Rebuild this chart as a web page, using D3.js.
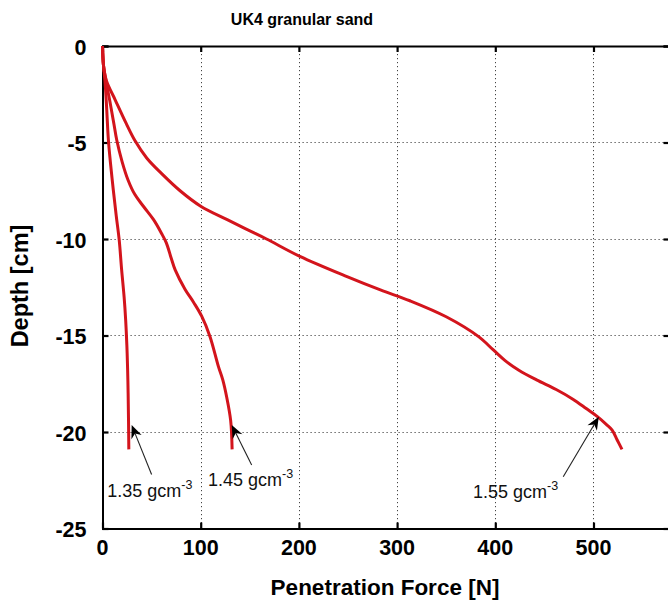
<!DOCTYPE html>
<html>
<head>
<meta charset="utf-8">
<script src="https://cdn.jsdelivr.net/npm/d3@7"></script>
<style>
  html, body { margin: 0; padding: 0; background: #fff; overflow: hidden; }
  svg { display: block; font-family: "Liberation Sans", Arial, sans-serif; }
</style>
</head>
<body>
<svg id="chart" width="668" height="602"></svg>
<script>
// Penetration force (N) against depth (cm) for three packing densities
const depth135 = [0, -1, -1.8, -3, -4.87, -6, -7.46, -8.8, -10.05, -11.6, -13, -14.2, -15.5, -16.8, -18, -19.4, -20.9];
const force135 = [0, 1, 2.5, 4, 6, 8, 11, 14, 17, 19.5, 22, 23.6, 24.8, 25.6, 26.1, 26.5, 26.8];

const depth145 = [0, -1, -1.8, -3, -4, -4.87, -6, -6.94, -7.7, -8.33, -9, -9.7, -10.2, -11, -11.6, -12.6, -13.3, -14, -15.06, -16.6, -17.3, -18.2, -19.4, -20.9];
const force145 = [0, 1, 3.5, 8, 11.5, 14.5, 20, 26, 33, 42, 52, 60, 65, 70, 74, 84, 93, 101, 109.5, 118, 122.5, 126.5, 130.5, 132];

const depth155 = [0, -1, -1.8, -2.8, -4, -4.9, -5.8, -6.6, -7.5, -8.3, -9, -9.53, -10, -10.9, -11.95, -12.64, -13.2, -14.03, -15.06, -15.75, -16.3, -16.8, -17.3, -17.8, -18.3, -18.8, -19.2, -19.6, -19.9, -20.4, -20.9];
const force155 = [0, 1, 4, 13, 24, 33, 45, 60, 79, 100, 127, 148, 167, 201, 249, 283, 313, 350, 383, 398, 410, 424, 442, 462, 479, 493, 504, 513, 519, 524, 529];

const xTicks = [0, 100, 200, 300, 400, 500];
const yTicks = [0, -5, -10, -15, -20, -25];

// Density annotations: arrow tip, arrow tail and label anchor, in data units
const labelDensity = ["1.35 gcm", "1.45 gcm", "1.55 gcm"];
const labelExponent = ["-3", "-3", "-3"];
const arrowTip  = [[29.7, -19.64], [131.6, -19.64], [505.4, -19.21]];
const arrowTail = [[50, -22.2], [151.9, -21.71], [469.2, -22.32]];
const labelAt   = [[4.9, -23.37], [107.4, -22.8], [377.3, -23.42]];

const svg = d3.select("#chart");
const plotLeft = 102.5, plotTop = 46, plotRight = 669.5, plotBottom = 528.5;

const x = d3.scaleLinear().domain([0, 577.4]).range([plotLeft, plotRight]);
const y = d3.scaleLinear().domain([0, -25]).range([plotTop, plotBottom]);

// dotted grid
const grid = svg.append("g").attr("stroke", "#444").attr("stroke-width", 1)
  .attr("stroke-dasharray", "1.2,2.8");
grid.selectAll("line.vx").data(xTicks.filter(d => d > 0)).join("line")
  .attr("x1", d => Math.round(x(d)) + 0.5).attr("x2", d => Math.round(x(d)) + 0.5)
  .attr("y1", plotTop).attr("y2", plotBottom);
grid.selectAll("line.hy").data(yTicks.filter(d => d < 0 && d > -25)).join("line")
  .attr("y1", d => Math.round(y(d)) + 0.5).attr("y2", d => Math.round(y(d)) + 0.5)
  .attr("x1", plotLeft).attr("x2", plotRight);

// frame and inward ticks via d3 axes
const tickLen = 6;
const axB = svg.append("g").attr("transform", `translate(0,${plotBottom})`)
  .call(d3.axisBottom(x).tickValues(xTicks).tickSize(-tickLen).tickFormat(""));
const axT = svg.append("g").attr("transform", `translate(0,${plotTop})`)
  .call(d3.axisTop(x).tickValues(xTicks).tickSize(-tickLen).tickFormat(""));
const axL = svg.append("g").attr("transform", `translate(${plotLeft},0)`)
  .call(d3.axisLeft(y).tickValues(yTicks).tickSize(-tickLen).tickFormat(""));
const axR = svg.append("g").attr("transform", `translate(${plotRight},0)`)
  .call(d3.axisRight(y).tickValues(yTicks).tickSize(-tickLen).tickFormat(""));
[axB, axT, axL, axR].forEach(a => {
  a.select(".domain").attr("stroke", "#000").attr("stroke-width", 2);
  a.selectAll(".tick line").attr("stroke", "#000").attr("stroke-width", 2.2);
});

// tick labels
svg.append("g").selectAll("text").data(xTicks).join("text")
  .attr("x", d => x(d)).attr("y", plotBottom + 26.5)
  .attr("text-anchor", "middle").attr("font-size", 21.5).attr("font-weight", "bold")
  .text(d => d);
svg.append("g").selectAll("text").data(yTicks).join("text")
  .attr("x", plotLeft - 16).attr("y", d => y(d) + 8.5)
  .attr("text-anchor", "end").attr("font-size", 21.5).attr("font-weight", "bold")
  .text(d => d);

// titles
svg.append("text").attr("x", 302).attr("y", 25).attr("text-anchor", "middle")
  .attr("font-size", 16).attr("font-weight", "bold").text("UK4 granular sand");
svg.append("text").attr("x", 385).attr("y", 595).attr("text-anchor", "middle")
  .attr("font-size", 22.5).attr("font-weight", "bold").text("Penetration Force [N]");
svg.append("text").attr("transform", "translate(28,286) rotate(-90)")
  .attr("text-anchor", "middle").attr("font-size", 23.5).attr("font-weight", "bold")
  .text("Depth [cm]");

// curves
const series = [
  { f: force135, d: depth135 },
  { f: force145, d: depth145 },
  { f: force155, d: depth155 }
];
const line = d3.line().x(p => x(p[0])).y(p => y(p[1])).curve(d3.curveCatmullRom.alpha(0.5));
const plot = svg.append("g");
plot.selectAll("path").data(series).join("path")
  .attr("d", s => line(s.f.map((v, i) => [v, s.d[i]])))
  .attr("fill", "none").attr("stroke", "#d3141c").attr("stroke-width", 3)
  .attr("stroke-linejoin", "round");

// annotation arrows
const ann = svg.append("g");
labelDensity.forEach((lab, i) => {
  const tx = x(arrowTip[i][0]), ty = y(arrowTip[i][1]);
  const sx = x(arrowTail[i][0]), sy = y(arrowTail[i][1]);
  const ang = Math.atan2(ty - sy, tx - sx);
  const L = 13, W = 5.5, notch = 9;
  const ux = Math.cos(ang), uy = Math.sin(ang);
  const px = -uy, py = ux;
  const bx = tx - ux * L, by = ty - uy * L;
  const nx = tx - ux * notch, ny = ty - uy * notch;
  ann.append("line").attr("x1", sx).attr("y1", sy).attr("x2", nx).attr("y2", ny)
    .attr("stroke", "#222").attr("stroke-width", 1.1);
  ann.append("path")
    .attr("d", `M${tx},${ty}L${bx + px * W},${by + py * W}L${nx},${ny}L${bx - px * W},${by - py * W}Z`)
    .attr("fill", "#000");
  const t = ann.append("text").attr("x", x(labelAt[i][0])).attr("y", y(labelAt[i][1]))
    .attr("font-size", 18).attr("fill", "#111");
  t.append("tspan").text(lab);
  t.append("tspan").attr("dy", -8).attr("font-size", 12.5).text(labelExponent[i]);
});
</script>
</body>
</html>
